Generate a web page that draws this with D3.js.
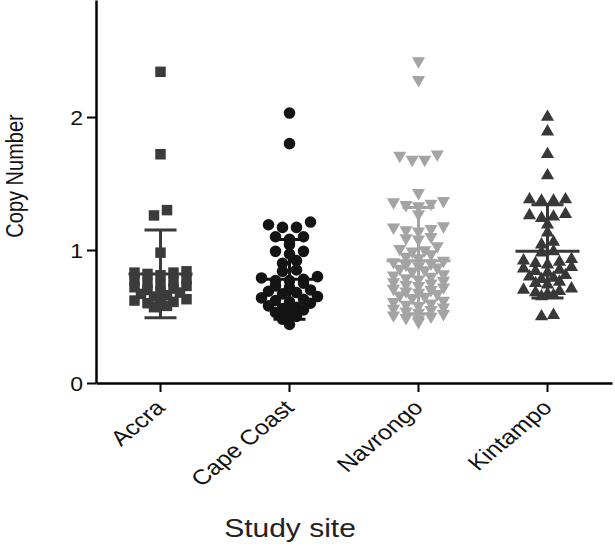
<!DOCTYPE html>
<html><head><meta charset="utf-8">
<script src="https://cdn.jsdelivr.net/npm/d3@7"></script>
<style>body{margin:0;background:#fff}svg{display:block}text{font-family:"Liberation Sans",Arial,sans-serif}</style>
</head><body>
<svg id="c" width="615" height="546"></svg>
<script>
const sites = ["Accra", "Cape Coast", "Navrongo", "Kintampo"];
const accra = [2.34, 1.72, 1.30, 1.26, 0.98,
  0.84, 0.83, 0.83, 0.82, 0.81,
  0.78, 0.77, 0.76, 0.75, 0.74,
  0.73, 0.72, 0.71, 0.70, 0.69,
  0.68, 0.67, 0.66, 0.65,
  0.63, 0.62, 0.61, 0.60, 0.59,
  0.58, 0.57];
const capeCoast = [2.03, 1.80,
  1.21, 1.19, 1.17, 1.17,
  1.10, 1.10, 1.08, 1.04,
  0.99, 0.99, 0.97, 0.92, 0.90,
  0.85, 0.84,
  0.80, 0.79, 0.78, 0.77, 0.77,
  0.75, 0.73, 0.72,
  0.70, 0.69, 0.68, 0.67,
  0.65, 0.64, 0.63, 0.62, 0.61,
  0.60, 0.58, 0.57, 0.56,
  0.55, 0.53, 0.52,
  0.50, 0.48, 0.44];
const navrongo = [2.42, 2.28,
  1.72, 1.71, 1.68, 1.68, 1.43,
  1.37, 1.36, 1.35, 1.34, 1.33, 1.27,
  1.18, 1.17, 1.16, 1.15, 1.14,
  1.10, 1.09, 1.08,
  1.03, 1.01, 1.00, 0.99,
  0.97, 0.95, 0.94,
  0.92, 0.91, 0.90, 0.89, 0.88,
  0.87, 0.86, 0.85, 0.84,
  0.82, 0.81, 0.80, 0.79, 0.78,
  0.77, 0.76, 0.75, 0.74, 0.73,
  0.72, 0.71, 0.70, 0.69, 0.68,
  0.67, 0.66, 0.65, 0.64,
  0.62, 0.61, 0.60, 0.59, 0.58,
  0.57, 0.56, 0.55, 0.54, 0.53,
  0.52, 0.51, 0.50, 0.49, 0.48,
  0.46];
const kintampo = [2.00, 1.89, 1.72, 1.56,
  1.38, 1.38, 1.37, 1.37,
  1.27, 1.26, 1.25, 1.24,
  1.19, 1.13, 1.06, 1.04, 0.99, 0.98,
  0.93, 0.92, 0.91, 0.90, 0.89,
  0.87, 0.86, 0.85, 0.84, 0.83,
  0.81, 0.80, 0.79, 0.78,
  0.76, 0.75, 0.74,
  0.71, 0.70, 0.69, 0.68, 0.67,
  0.66, 0.65,
  0.51, 0.50];
const groupMeans = [0.82, 0.78, 0.92, 0.99];
const groupSDs = [0.33, 0.30, 0.40, 0.35];
const yTicks = [0, 1, 2];

const groups = [accra, capeCoast, navrongo, kintampo];
const colors = ["#3b3b3b", "#141414", "#a4a4a4", "#383838"];
const shapes = ["square", "circle", "tridown", "triup"];
const spacing = [13, 14, 12.5, 12];
const binSize = 0.05;

const svg = d3.select("#c");
const y = d3.scaleLinear().domain([0, 2.88]).range([383, 0]);
const x = d3.scaleBand().domain(sites).range([96, 612]);

function layout(vals, sp) {
  const s = vals.slice().sort((a, b) => b - a);
  const bins = [];
  let cur = null;
  s.forEach(v => {
    if (!cur || !(v > cur.start - binSize + 1e-9)) { cur = {start: v, vals: []}; bins.push(cur); }
    cur.vals.push(v);
  });
  const out = [];
  bins.forEach(b => {
    const n = b.vals.length;
    const offs = d3.range(n).map(i => (i - (n - 1) / 2) * sp);
    offs.sort((a, c) => Math.abs(c) - Math.abs(a) || c - a);
    b.vals.forEach((v, i) => out.push({v, dx: offs[i]}));
  });
  return out;
}

const symbolFor = {
  square: d3.symbol().type(d3.symbolSquare).size(110),
  circle: d3.symbol().type(d3.symbolCircle).size(105),
  triup: d3.symbol().type(d3.symbolTriangle).size(75),
  tridown: d3.symbol().type(d3.symbolTriangle).size(75)
};

groups.forEach((g, gi) => {
  const cx = x(sites[gi]) + x.bandwidth() / 2;
  const pts = layout(g, spacing[gi]);
  svg.append("g").selectAll("path").data(pts).join("path")
    .attr("d", symbolFor[shapes[gi]]())
    .attr("transform", d => `translate(${cx + d.dx},${y(d.v)})` + (shapes[gi] === "tridown" ? " rotate(180)" : ""))
    .attr("fill", colors[gi]);
  const m = groupMeans[gi], sd = groupSDs[gi];
  const eg = svg.append("g").attr("stroke", colors[gi]).attr("stroke-width", 3).attr("fill", "none");
  eg.append("line").attr("x1", cx).attr("x2", cx).attr("y1", y(m + sd)).attr("y2", y(m - sd));
  eg.append("line").attr("x1", cx - 16).attr("x2", cx + 16).attr("y1", y(m + sd)).attr("y2", y(m + sd));
  eg.append("line").attr("x1", cx - 16).attr("x2", cx + 16).attr("y1", y(m - sd)).attr("y2", y(m - sd));
  eg.append("line").attr("x1", cx - 32).attr("x2", cx + 32).attr("y1", y(m)).attr("y2", y(m));
});

const ya = svg.append("g").attr("transform", "translate(96,0)")
  .call(d3.axisLeft(y).tickValues(yTicks).tickFormat(d3.format("d")).tickSize(9).tickSizeOuter(0).tickPadding(5));
ya.select(".domain").attr("stroke", "#000").attr("stroke-width", 2.5);
ya.selectAll(".tick line").attr("stroke-width", 2);
ya.selectAll("text").attr("font-size", 20).attr("fill", "#111")
  .attr("x", 0).attr("dy", "0.35em")
  .attr("transform", "translate(-13,0) scale(1.15,1)");

const xa = svg.append("g").attr("transform", "translate(0,383)")
  .call(d3.axisBottom(x).tickSize(9).tickSizeOuter(0));
xa.select(".domain").attr("stroke", "#000").attr("stroke-width", 2.5);
xa.selectAll(".tick line").attr("stroke-width", 2);
xa.selectAll("text").attr("font-size", 21).attr("fill", "#111")
  .attr("x", 0).attr("y", 0).attr("dy", 0)
  .attr("transform", "translate(6,26) scale(1.2,1) rotate(-45)")
  .style("text-anchor", "end");

svg.append("text").attr("transform", "translate(23,176) scale(1.15,1) rotate(-90)")
  .attr("text-anchor", "middle").attr("font-size", 20).attr("fill", "#111").text("Copy Number");
svg.append("text").attr("transform", "translate(290,537) scale(1.2,1)")
  .attr("text-anchor", "middle").attr("font-size", 25).attr("fill", "#222").text("Study site");
</script>
</body></html>
